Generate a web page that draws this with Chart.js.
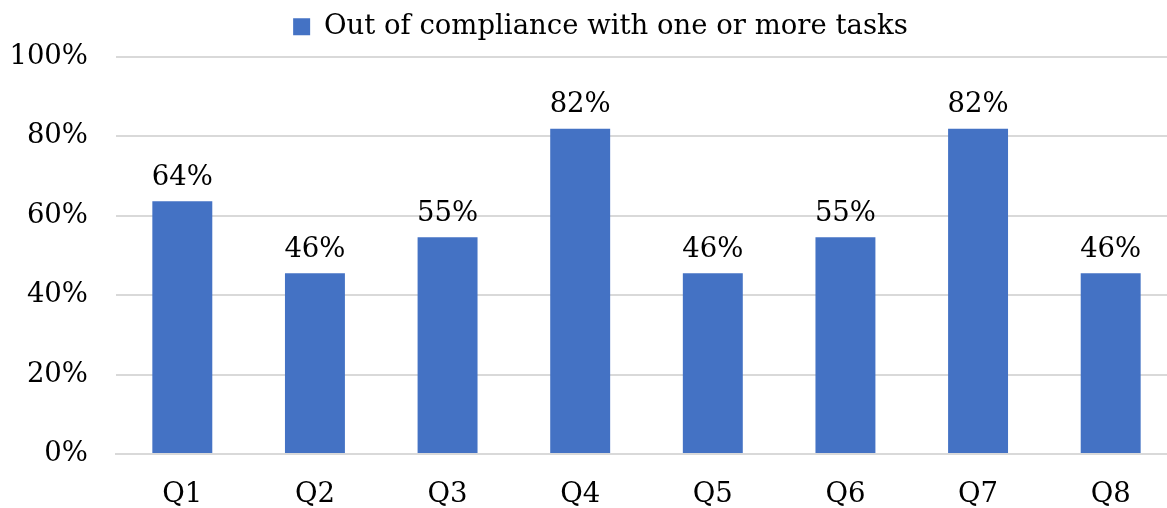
<!DOCTYPE html>
<html><head><meta charset="utf-8">
<script src="https://cdn.jsdelivr.net/npm/chart.js@4/dist/chart.umd.min.js"></script>
<style>html,body{margin:0;padding:0;background:#fff;overflow:hidden}#wrap{width:1167px;height:508px;overflow:hidden}</style>
</head><body><div id="wrap"><canvas id="c" width="1177" height="508"></canvas></div>
<script>
const categories = ["Q1","Q2","Q3","Q4","Q5","Q6","Q7","Q8"];
const seriesName = "Out of compliance with one or more tasks";
const values = [63.6, 45.5, 54.5, 81.8, 45.5, 54.5, 81.8, 45.5];
const yTicks = [0, 20, 40, 60, 80, 100];
const FONT = "'DejaVu Serif', serif";
const FS = 27.5;

const labelPlugin = {
  id: 'barLabels',
  beforeLayout(chart) {
    const lg = chart.legend;
    if (lg && !lg._patched) {
      const fit = lg.fit;
      lg.fit = function () { fit.call(this); this.height += 6; };
      lg._patched = true;
    }
  },
  afterLayout(chart) {
    // nudge the legend to the right, as in the original
    chart.legend.left += 8;
    chart.legend.right += 8;
  },
  afterDatasetsDraw(chart) {
    const ctx = chart.ctx;
    const meta = chart.getDatasetMeta(0);
    ctx.save();
    ctx.fillStyle = '#000';
    ctx.font = FS + "px " + FONT;
    ctx.textAlign = 'center';
    ctx.textBaseline = 'bottom';
    meta.data.forEach((bar, i) => {
      ctx.fillText(Math.round(values[i]) + '%', bar.x, bar.y - 10);
    });
    ctx.restore();
  }
};

new Chart(document.getElementById('c'), {
  type: 'bar',
  data: {
    labels: categories,
    datasets: [{
      label: seriesName,
      data: values,
      backgroundColor: '#4472C4',
      barPercentage: 0.452,
      categoryPercentage: 1.0
    }]
  },
  options: {
    responsive: false,
    animation: false,
    layout: { padding: { left: 8, right: 0, top: -1, bottom: -19 } },
    plugins: {
      tooltip: { enabled: false },
      legend: {
        position: 'top',
        labels: {
          font: { family: FONT, size: FS },
          color: '#000',
          boxWidth: 17, boxHeight: 17,
          padding: 14
        }
      }
    },
    scales: {
      x: {
        grid: { display: false },
        border: { display: true, color: '#d9d9d9', width: 2 },
        ticks: { font: { family: FONT, size: FS }, color: '#000', padding: 16 }
      },
      y: {
        min: 0, max: 100,
        afterBuildTicks(axis) { axis.ticks = yTicks.map(v => ({ value: v })); },
        afterFit(axis) { axis.width = 108; },
        grid: { color: '#d9d9d9', lineWidth: 2, drawTicks: false },
        border: { display: false },
        ticks: {
          font: { family: FONT, size: FS }, color: '#000', padding: 28,
          callback: v => v + '%'
        }
      }
    }
  },
  plugins: [labelPlugin]
});
</script>
</body></html>
